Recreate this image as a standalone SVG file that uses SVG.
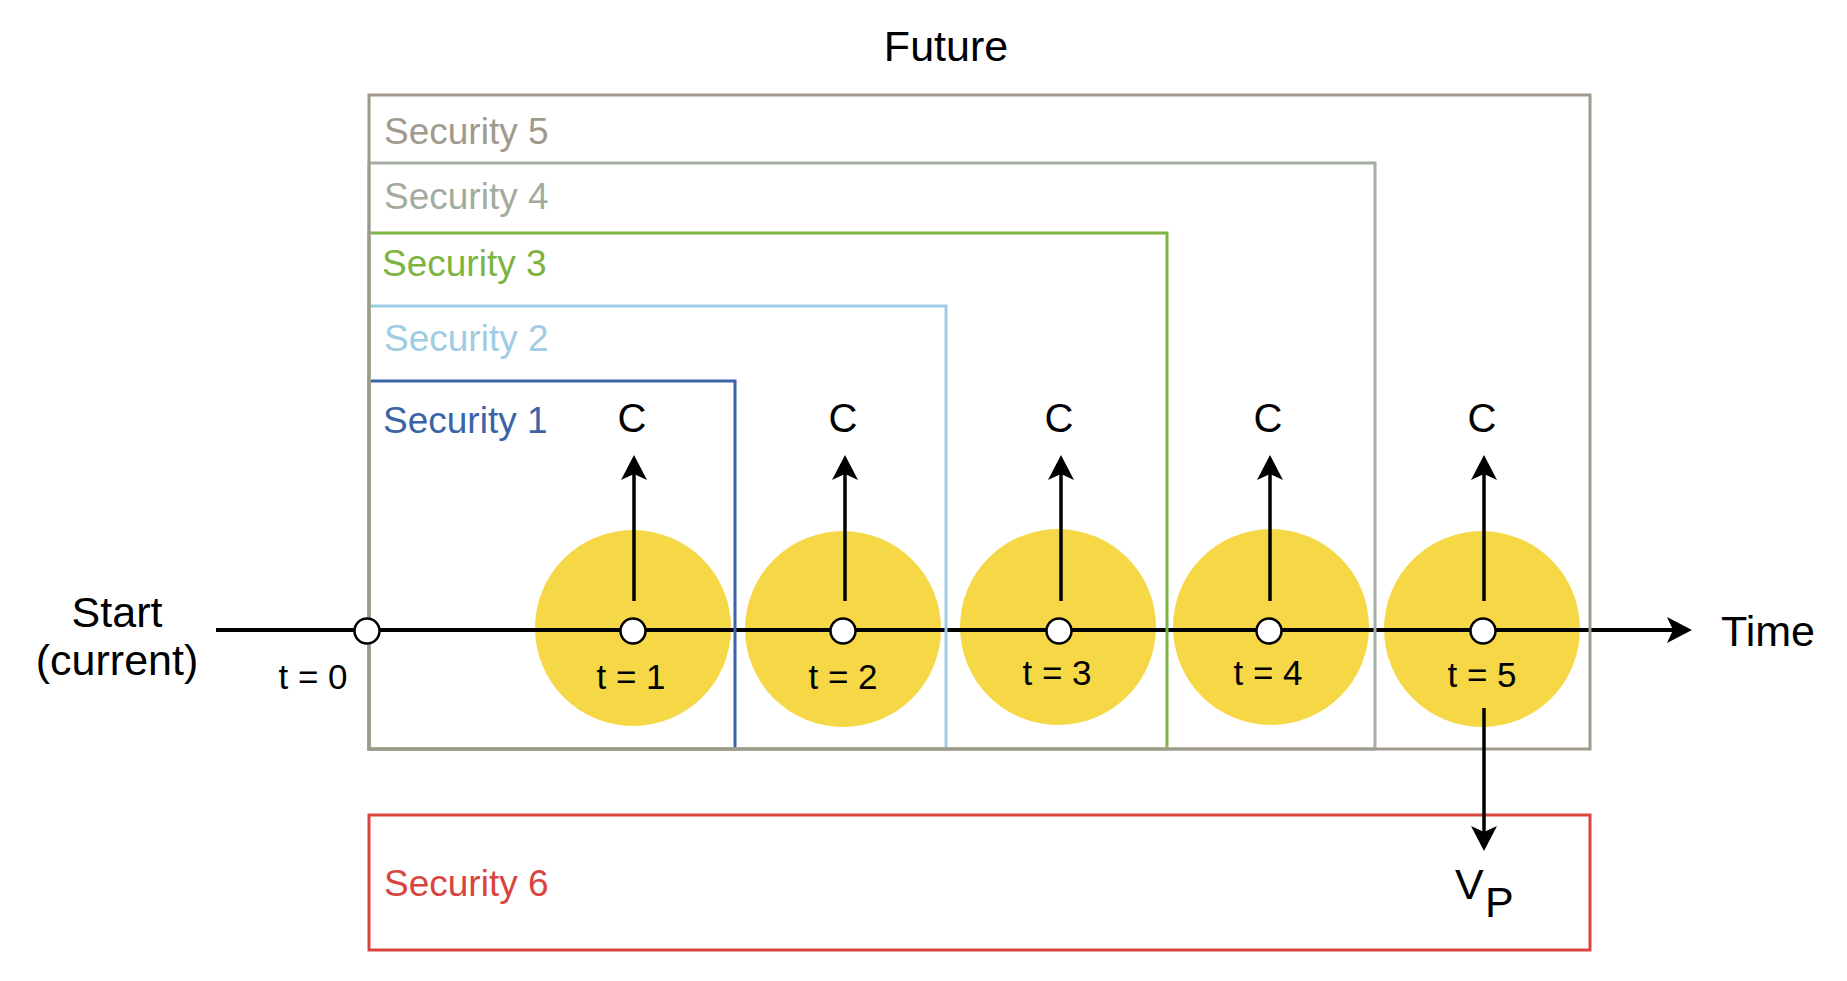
<svg xmlns="http://www.w3.org/2000/svg" width="1847" height="981" viewBox="0 0 1847 981">
<style>
text{font-family:"Liberation Sans",Arial,Helvetica,sans-serif;fill:#000}
.big{font-size:43px}
.sec{font-size:37px}
.c{font-size:40px;text-anchor:middle}
.t{font-size:35px;text-anchor:middle}
.box{fill:none;stroke-width:3}
.yel{fill:#f6d846}
.node{fill:#fff;stroke:#000;stroke-width:2.5}
.arr{stroke:#000;stroke-width:3.5;fill:none;marker-end:url(#ah)}
</style>
<defs>
<marker id="ah" markerUnits="userSpaceOnUse" markerWidth="26" markerHeight="26" refX="6" refY="13" orient="auto">
<path d="M0,0 L25,13 L0,26 L6,13 Z" fill="#000"/>
</marker>
</defs>
<rect width="1847" height="981" fill="#fff"/>
<text class="big" x="946" y="61" text-anchor="middle">Future</text>
<g id="start"><text class="big" x="117" y="627" text-anchor="middle">Start</text><text class="big" x="117" y="675" text-anchor="middle">(current)</text></g>
<g id="time"><text class="big" x="1721" y="646">Time</text></g>
<g id="circles">
<circle class="yel" cx="633" cy="628" r="98"/>
<circle class="yel" cx="843" cy="629" r="98"/>
<circle class="yel" cx="1058" cy="627" r="98"/>
<circle class="yel" cx="1271" cy="627" r="98"/>
<circle class="yel" cx="1482" cy="629" r="98"/>
</g>
<g id="connectors">
<line class="arr" x1="216" y1="630" x2="1673" y2="630" style="stroke-width:4"/>
</g>
<g id="security1"><rect class="box" x="369" y="381" width="366" height="368" stroke="#3a63a8"/><text class="sec" x="383" y="433" fill="#3a63a8" style="fill:#3a63a8">Security 1</text></g>
<g id="security2"><rect class="box" x="369" y="306" width="577" height="443" stroke="#9ecde3"/><text class="sec" x="384" y="351" style="fill:#9ecde3">Security 2</text></g>
<g id="security3"><rect class="box" x="369" y="233" width="798" height="516" stroke="#7db343"/><text class="sec" x="382" y="276" style="fill:#7db343">Security 3</text></g>
<g id="security4"><rect class="box" x="369" y="163" width="1006" height="586" stroke="#a5afa5"/><text class="sec" x="384" y="209" style="fill:#a3ab9f">Security 4</text></g>
<g id="security5"><rect class="box" x="369" y="95" width="1221" height="654" stroke="#a09a8e"/><text class="sec" x="384" y="144" style="fill:#a09a8e">Security 5</text></g>
<g id="security6"><rect class="box" x="369" y="815" width="1221" height="135" stroke="#d9443f"/><text class="sec" x="384" y="896" style="fill:#d9443f">Security 6</text></g>
<g id="arrows">
<line class="arr" x1="634" y1="601" x2="634" y2="474"/>
<line class="arr" x1="845" y1="601" x2="845" y2="474"/>
<line class="arr" x1="1061" y1="601" x2="1061" y2="474"/>
<line class="arr" x1="1270" y1="601" x2="1270" y2="474"/>
<line class="arr" x1="1484" y1="601" x2="1484" y2="474"/>
<line class="arr" x1="1484" y1="708" x2="1484" y2="832"/>
</g>
<g id="nodes">
<g id="t0"><circle class="node" cx="367" cy="631" r="12.5"/><text class="t" x="313" y="689">t = 0</text></g>
<g id="t1"><circle class="node" cx="633" cy="631" r="12.5"/><text class="t" x="631" y="689">t = 1</text><text class="c" x="632" y="432">C</text></g>
<g id="t2"><circle class="node" cx="843" cy="631" r="12.5"/><text class="t" x="843" y="689">t = 2</text><text class="c" x="843" y="432">C</text></g>
<g id="t3"><circle class="node" cx="1059" cy="631" r="12.5"/><text class="t" x="1057" y="685">t = 3</text><text class="c" x="1059" y="432">C</text></g>
<g id="t4"><circle class="node" cx="1269" cy="631" r="12.5"/><text class="t" x="1268" y="685">t = 4</text><text class="c" x="1268" y="432">C</text></g>
<g id="t5"><circle class="node" cx="1483" cy="631" r="12.5"/><text class="t" x="1482" y="687">t = 5</text><text class="c" x="1482" y="432">C</text></g>
</g>
<g id="vp"><text class="big" x="1455" y="899">V</text><text class="big" x="1485" y="917">P</text></g>
</svg>
